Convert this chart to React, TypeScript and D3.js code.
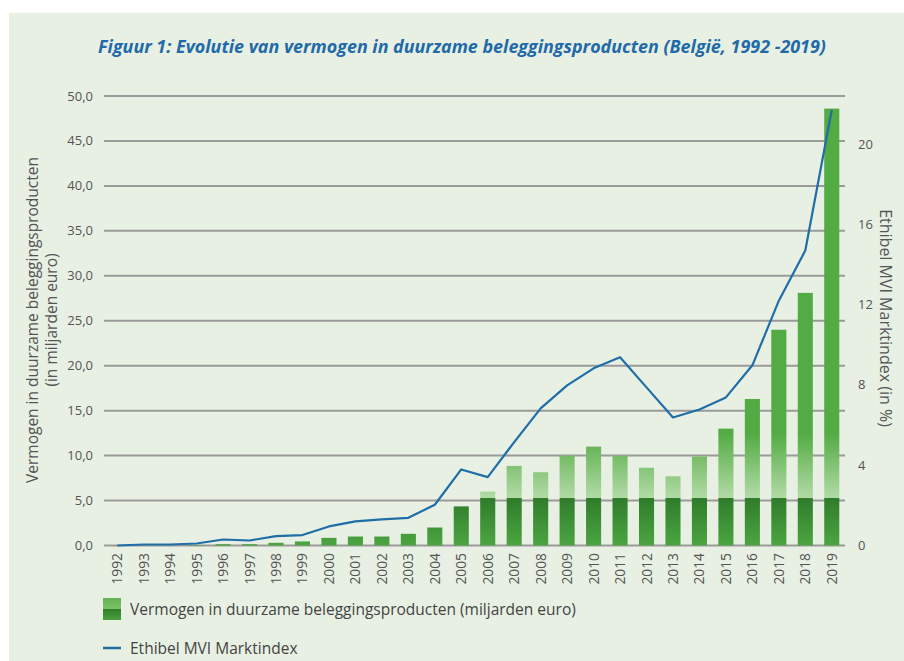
import React from 'react';
import * as d3 from 'd3';

const years = ['1992','1993','1994','1995','1996','1997','1998','1999','2000','2001','2002','2003','2004','2005','2006','2007','2008','2009','2010','2011','2012','2013','2014','2015','2016','2017','2018','2019'];
const vermogen = [0, 0, 0, 0.05, 0.15, 0.15, 0.3, 0.45, 0.85, 1.0, 1.0, 1.3, 2.0, 4.35, 6.0, 8.85, 8.15, 10.0, 11.0, 10.0, 8.65, 7.7, 9.9, 13.0, 16.3, 24.0, 28.1, 48.6];
const marktindex = [0, 0.05, 0.05, 0.1, 0.3, 0.25, 0.47, 0.52, 0.95, 1.2, 1.3, 1.38, 2.03, 3.79, 3.41, 5.15, 6.83, 7.98, 8.83, 9.38, 7.88, 6.38, 6.78, 7.38, 8.98, 12.2, 14.7, 21.7];
const leftTicks = [0, 5, 10, 15, 20, 25, 30, 35, 40, 45, 50];
const rightTicks = [0, 4, 8, 12, 16, 20];

const W = 904;
const H = 661;
const FONT = "'Open Sans', 'DejaVu Sans', sans-serif";

export default function App() {
  const x = d3.scaleBand<string>().domain(years).range([104, 845]).paddingInner(0.43).paddingOuter(0.215);
  const yL = d3.scaleLinear().domain([0, 50]).range([545.5, 96]);
  const yR = d3.scaleLinear().domain([0, 22.4]).range([545.5, 96]);
  const fmt = (v: number) => v.toFixed(1).replace('.', ',');
  const line = d3.line<number>()
    .x((_, i) => (x(years[i]) as number) + x.bandwidth() / 2)
    .y((d) => yR(d));

  const off = (v: number) => `${(v / 50) * 100}%`;

  return (
    <div style={{ position: 'absolute', left: 0, top: 0 }}>
      <svg width={W} height={H} style={{ display: 'block' }}>
        <defs>
          <linearGradient id="barGrad" gradientUnits="userSpaceOnUse" x1={0} x2={0} y1={yL(0)} y2={yL(50)}>
            <stop offset="0%" stopColor="#4ba541" />
            <stop offset={off(5.3)} stopColor="#2f7c2b" />
            <stop offset={off(5.3)} stopColor="#b2dba6" />
            <stop offset={off(12.5)} stopColor="#53ab43" />
            <stop offset="100%" stopColor="#53ab43" />
          </linearGradient>
          <linearGradient id="legGrad" x1={0} x2={0} y1={0} y2={1}>
            <stop offset="0%" stopColor="#5fb34f" />
            <stop offset="50%" stopColor="#7cc26c" />
            <stop offset="50%" stopColor="#2f7c2b" />
            <stop offset="100%" stopColor="#4aa240" />
          </linearGradient>
        </defs>
        <rect x={0} y={0} width={W} height={H} fill="#ffffff" />
        <rect x={9} y={13} width={W - 9} height={H - 13} fill="#e8f0e3" />

        <text x={462} y={53} textAnchor="middle" fontFamily={FONT} fontStyle="italic" fontWeight={700}
          fontSize={17.9} fill="#1f6aa8">
          Figuur 1: Evolutie van vermogen in duurzame beleggingsproducten (België, 1992 -2019)
        </text>

        {leftTicks.map((t) => (
          <g key={'g' + t}>
            <line x1={104} x2={845} y1={yL(t)} y2={yL(t)} stroke="#9a9a9a" strokeWidth={2} />
            <text x={93} y={yL(t) + 4.5} textAnchor="end" fontFamily={FONT} fontSize={13} fill="#555">{fmt(t)}</text>
          </g>
        ))}
        {rightTicks.map((t) => (
          <text key={'r' + t} x={858} y={yR(t) + 4.5} textAnchor="start" fontFamily={FONT} fontSize={13} fill="#555">{t}</text>
        ))}

        {years.map((yr, i) => (
          <rect key={'b' + yr} x={x(yr) as number} width={x.bandwidth()} y={yL(vermogen[i])}
            height={yL(0) - yL(vermogen[i])} fill="url(#barGrad)" />
        ))}

        <path d={line(marktindex) as string} fill="none" stroke="#1f6ea8" strokeWidth={2.2} strokeLinejoin="round" />

        {years.map((yr) => {
          const cx = (x(yr) as number) + x.bandwidth() / 2;
          return (
            <text key={'x' + yr} transform={`translate(${cx + 5},553) rotate(-90)`} textAnchor="end"
              fontFamily={FONT} fontSize={13.8} fill="#555">{yr}</text>
          );
        })}

        <text transform="translate(38,320) rotate(-90)" textAnchor="middle" fontFamily={FONT} fontSize={15.5} fill="#555">
          Vermogen in duurzame beleggingsproducten
        </text>
        <text transform="translate(57,320) rotate(-90)" textAnchor="middle" fontFamily={FONT} fontSize={15.5} fill="#555">
          (in miljarden euro)
        </text>
        <text transform="translate(880,318) rotate(90)" textAnchor="middle" fontFamily={FONT} fontSize={16} fill="#555">
          Ethibel MVI Marktindex (in %)
        </text>

        <rect x={103} y={598} width={18} height={22} fill="url(#legGrad)" />
        <text x={130} y={615} fontFamily={FONT} fontSize={15.5} fill="#444">
          Vermogen in duurzame beleggingsproducten (miljarden euro)
        </text>
        <line x1={103} x2={121} y1={648} y2={648} stroke="#1f6ea8" strokeWidth={2.5} />
        <text x={130} y={654} fontFamily={FONT} fontSize={15.5} fill="#444">Ethibel MVI Marktindex</text>
      </svg>
    </div>
  );
}
